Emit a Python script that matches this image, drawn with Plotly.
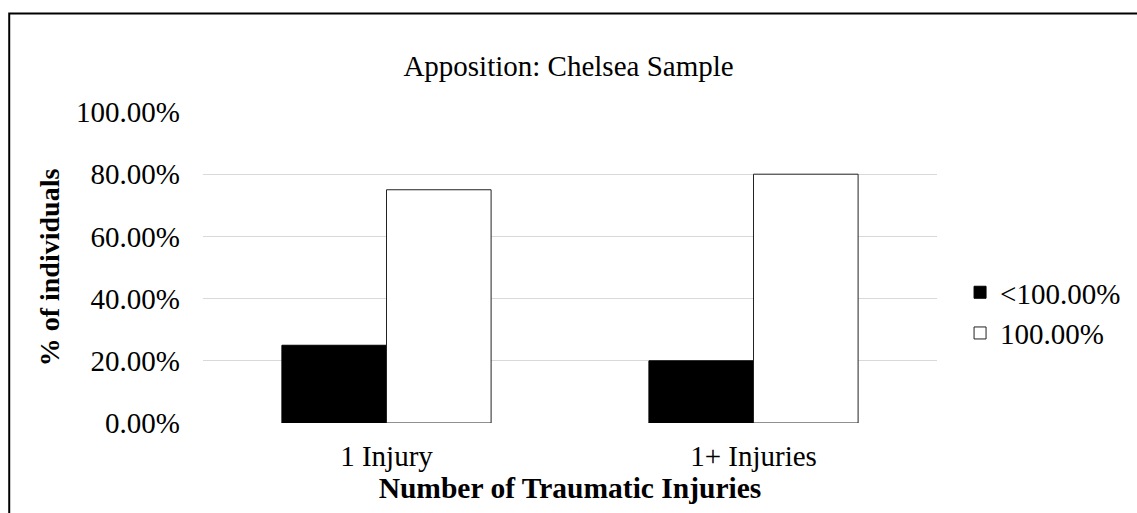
import plotly.graph_objects as go

CATEGORIES = ['1 Injury', '1+ Injuries']
SERIES_NAMES = ['<100.00%', '100.00%']
BELOW_FULL = [0.25, 0.20]
FULL = [0.75, 0.80]
Y_TICKS = [0, 0.2, 0.4, 0.6, 0.8, 1.0]

FONT = 'Liberation Serif, Times New Roman, serif'

fig = go.Figure()
fig.add_trace(go.Bar(name=SERIES_NAMES[0], x=CATEGORIES, y=BELOW_FULL,
                     marker=dict(color='black', line=dict(color='black', width=1))))
fig.add_trace(go.Bar(name=SERIES_NAMES[1], x=CATEGORIES, y=FULL,
                     marker=dict(color='white', line=dict(color='#222222', width=1))))

fig.update_layout(
    width=1137, height=513,
    paper_bgcolor='white', plot_bgcolor='white',
    font=dict(family=FONT, color='black', size=29),
    barmode='group', bargap=0.43, bargroupgap=0,
    margin=dict(l=203, r=199, t=112, b=90),
    title=dict(text='Apposition: Chelsea Sample', x=0.5, xanchor='center',
               y=1 - 66 / 513, yanchor='middle', font=dict(size=29, family=FONT)),
    xaxis=dict(showgrid=False, showline=False, ticks='', tickfont=dict(size=29),
               ticklabelstandoff=13,
               title=dict(text='<b>Number of Traumatic Injuries</b>', standoff=0,
                          font=dict(size=29.5))),
    yaxis=dict(range=[0, 1], tickvals=Y_TICKS, tickformat='.2%', showgrid=True,
               gridcolor='#d9d9d9', gridwidth=1, zeroline=False, showline=False,
               ticks='', ticklabelstandoff=22, tickfont=dict(size=29),
               title=dict(text='<b>% of individuals</b>', standoff=8, font=dict(size=28))),
    legend=dict(x=1.030, y=0.354, xanchor='left', yanchor='middle',
                font=dict(size=29), itemwidth=30),
    shapes=[dict(type='rect', xref='paper', yref='paper',
                 x0=-0.264, x1=1.5, y0=-0.5, y1=1.317,
                 line=dict(color='black', width=2), fillcolor='rgba(0,0,0,0)')],
)

fig.write_html('out.html', config={'displayModeBar': False},
               post_script="document.body.style.margin='0px';")
